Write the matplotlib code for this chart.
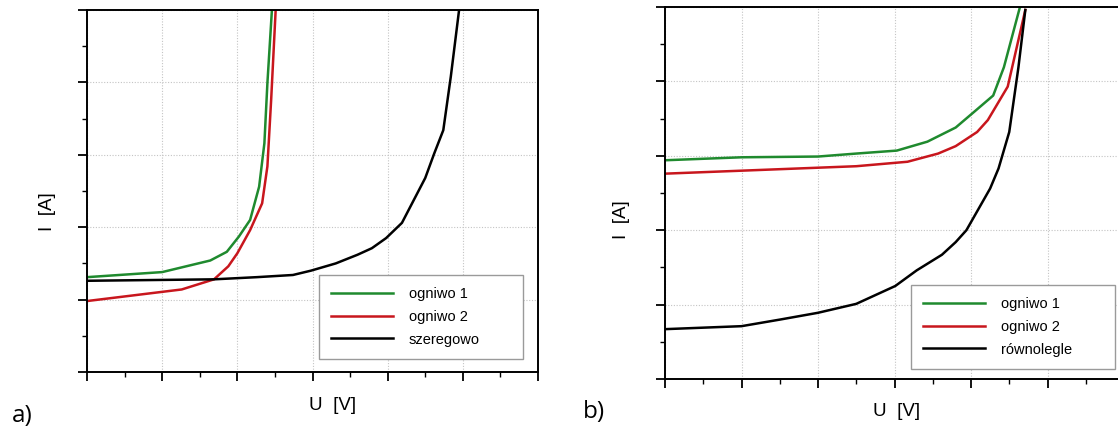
import matplotlib
matplotlib.use("Agg")
import matplotlib.pyplot as plt
from matplotlib.ticker import MultipleLocator, NullFormatter

# ---- data (arbitrary units) ----
# panel a)
a_u1 = [0.0, 1.0, 1.64, 1.86, 2.02, 2.17, 2.29, 2.36, 2.40, 2.46]
a_i1 = [1.31, 1.38, 1.54, 1.66, 1.87, 2.10, 2.56, 3.16, 3.99, 5.0]
a_u2 = [0.0, 1.26, 1.69, 1.88, 2.0, 2.17, 2.33, 2.40, 2.45, 2.51]
a_i2 = [0.98, 1.14, 1.28, 1.46, 1.64, 1.96, 2.33, 2.84, 3.76, 5.0]
a_us = [0.0, 1.69, 2.26, 2.74, 2.98, 3.31, 3.60, 3.79, 3.98, 4.19, 4.50, 4.62, 4.74, 4.84, 4.95]
a_is = [1.26, 1.28, 1.31, 1.34, 1.40, 1.50, 1.62, 1.71, 1.85, 2.06, 2.68, 3.02, 3.34, 4.08, 5.0]

# panel b)
b_u1 = [0.0, 1.0, 2.0, 2.5, 3.03, 3.43, 3.80, 4.04, 4.29, 4.43, 4.64]
b_i1 = [2.94, 2.98, 2.99, 3.03, 3.07, 3.19, 3.38, 3.59, 3.81, 4.19, 5.0]
b_u2 = [0.0, 1.0, 2.0, 2.5, 3.17, 3.57, 3.80, 4.08, 4.22, 4.48, 4.71]
b_i2 = [2.76, 2.80, 2.84, 2.86, 2.92, 3.03, 3.13, 3.32, 3.48, 3.93, 4.96]
b_up = [0.0, 1.0, 1.51, 2.0, 2.5, 3.01, 3.29, 3.62, 3.80, 3.94, 4.25, 4.36, 4.50, 4.62, 4.71]
b_ip = [0.67, 0.71, 0.80, 0.89, 1.01, 1.25, 1.46, 1.67, 1.84, 2.0, 2.56, 2.83, 3.32, 4.19, 4.96]

labels_a = ["ogniwo 1", "ogniwo 2", "szeregowo"]
labels_b = ["ogniwo 1", "ogniwo 2", "równolegle"]
colors = ["#1f8a2e", "#c8161d", "#000000"]

W, H = 1118, 430
fig = plt.figure(figsize=(W / 100, H / 100), dpi=100)
plt.rcParams['font.family'] = ['Liberation Sans', 'DejaVu Sans']


def style(ax):
    ax.set_xlim(0, 6)
    ax.set_ylim(0, 5)
    ax.xaxis.set_major_locator(MultipleLocator(1))
    ax.xaxis.set_minor_locator(MultipleLocator(0.5))
    ax.yaxis.set_major_locator(MultipleLocator(1))
    ax.yaxis.set_minor_locator(MultipleLocator(0.5))
    ax.xaxis.set_major_formatter(NullFormatter())
    ax.yaxis.set_major_formatter(NullFormatter())
    ax.tick_params(which='major', direction='out', length=6.5, width=1.3)
    ax.tick_params(which='minor', direction='out', length=3.5, width=1.0)
    ax.tick_params(top=False, right=False)
    for s in ax.spines.values():
        s.set_linewidth(1.4)
    ax.grid(True, which='major', color='#c4c4c4', linestyle=(0, (1, 1.5)), linewidth=0.8)
    ax.set_axisbelow(True)


def px(x0, y0, w, h):
    return [x0 / W, 1 - (y0 + h) / H, w / W, h / H]


axa = fig.add_axes(px(87, 10, 451, 362))
style(axa)
axa.plot(a_u1, a_i1, color=colors[0], lw=1.8, label=labels_a[0])
axa.plot(a_u2, a_i2, color=colors[1], lw=1.8, label=labels_a[1])
axa.plot(a_us, a_is, color=colors[2], lw=1.8, label=labels_a[2])

axb = fig.add_axes(px(665, 7, 459, 372))
style(axb)
axb.plot(b_u1, b_i1, color=colors[0], lw=1.8, label=labels_b[0])
axb.plot(b_u2, b_i2, color=colors[1], lw=1.8, label=labels_b[1])
axb.plot(b_up, b_ip, color=colors[2], lw=1.8, label=labels_b[2])

legkw = dict(fontsize=10.5, frameon=True, fancybox=False, edgecolor='#9a9a9a',
             framealpha=1, handlelength=4.2, handletextpad=1.1, labelspacing=0.6,
             borderpad=0.85, borderaxespad=0, loc='lower left', mode='expand')
la = axa.legend(bbox_to_anchor=((319 - 87) / 451, (372 - 359) / 362, 204 / 451, 0.1), **legkw)
la.get_frame().set_linewidth(1.0)
lb = axb.legend(bbox_to_anchor=((911 - 665) / 459, (379 - 369) / 372, 204 / 459, 0.1), **legkw)
lb.get_frame().set_linewidth(1.0)


def t(x, y, s, **kw):
    fig.text(x / W, 1 - y / H, s, ha='center', va='center', **kw)


t(48, 212, "I  [A]", rotation=90, fontsize=13.5)
t(333, 406, "U  [V]", fontsize=13.5)
t(621, 220, "I  [A]", rotation=90, fontsize=13.5)
t(897, 412, "U  [V]", fontsize=13.5)
t(22, 416, "a)", fontsize=17.5, family=['Open Sans', 'DejaVu Sans'])
t(594, 412, "b)", fontsize=17.5, family=['Open Sans', 'DejaVu Sans'])

fig.savefig("out.png", dpi=100)
